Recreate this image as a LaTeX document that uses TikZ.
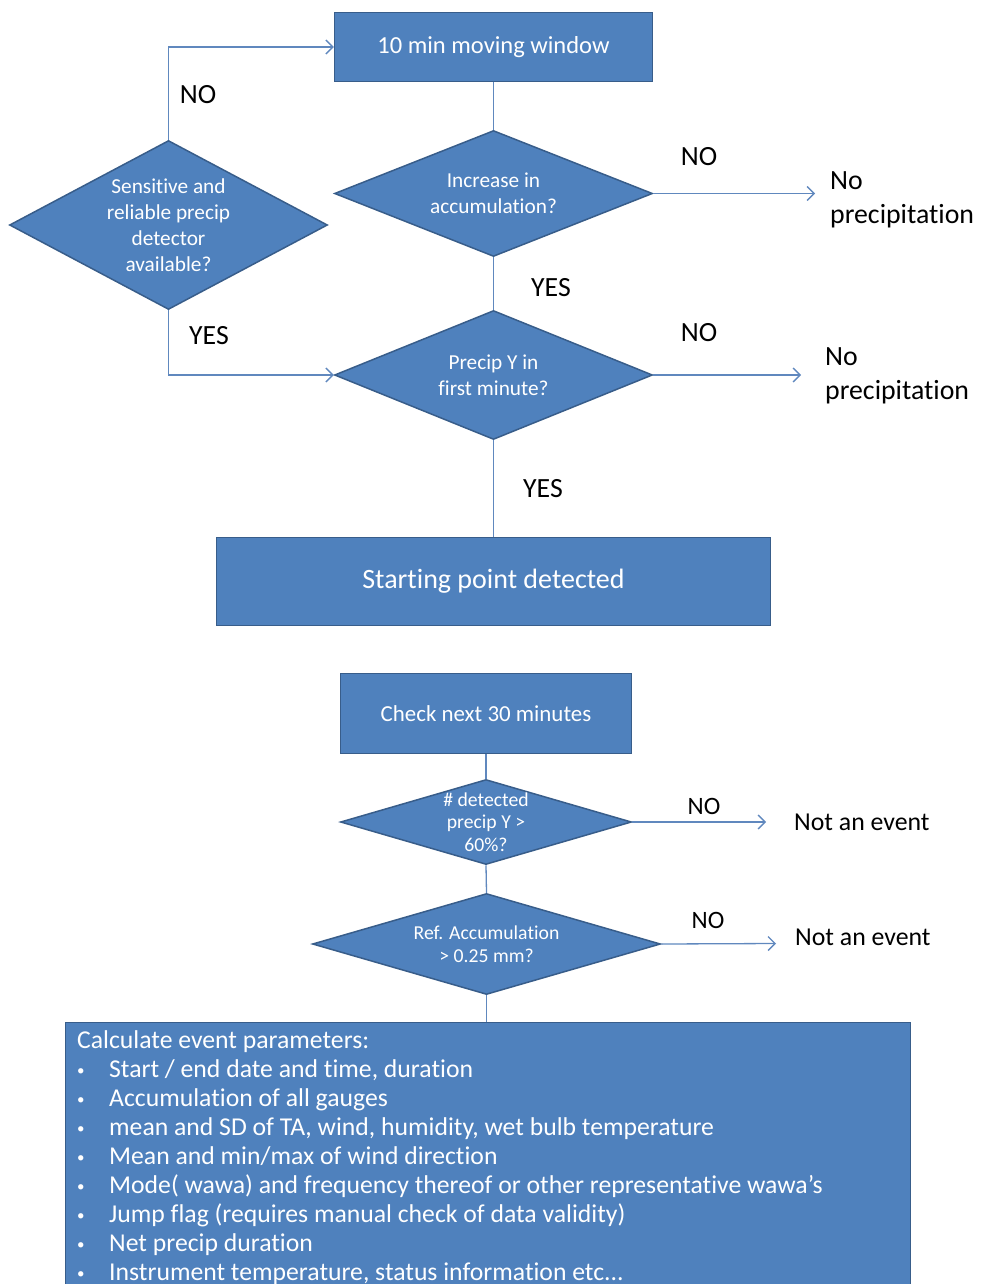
\documentclass[tikz,border=0pt]{standalone}
\usepackage{fontspec}
\setmainfont{Carlito}[Ligatures=NoCommon]
\usetikzlibrary{shapes.geometric,arrows.meta}
\definecolor{boxblue}{RGB}{79,129,189}
\definecolor{boxedge}{RGB}{56,93,138}
\definecolor{lineblue}{RGB}{96,136,190}
\newcommand\windowfont{\fontsize{24.5}{29}\selectfont}
\newcommand\startfont{\fontsize{28}{33}\selectfont}
\newcommand\nextfont{\fontsize{22.9}{27}\selectfont}
\newcommand\diamfont{\fontsize{21.3}{26}\selectfont}
\newcommand\smalldiamfont{\fontsize{19.7}{22.5}\selectfont}
\newcommand\answerfont{\fontsize{27.8}{34}\selectfont}
\newcommand\eventfont{\fontsize{25.8}{31}\selectfont}
\newcommand\paramfont{\fontsize{25.7}{29}\selectfont}
\newcommand\dotitem{\makebox[32pt][l]{\raisebox{2pt}{\fontsize{15}{15}\selectfont•}}}
\tikzset{
  process/.style={rectangle, fill=boxblue, draw=boxedge, line width=1.5pt, text=white, inner sep=0pt},
  decision/.style={diamond, fill=boxblue, draw=boxedge, line width=1.5pt, inner sep=0pt},
  dtext/.style={text=white, align=center, inner sep=0pt},
  flow/.style={draw=lineblue, line width=1.3pt},
  flowarrow/.style={flow, -{Straight Barb[length=7pt,width=14pt]}},
  answer/.style={inner sep=0pt, font=\answerfont},
  outcome/.style={inner sep=0pt, align=left, anchor=west},
}
\begin{document}
\begin{tikzpicture}[x=1pt, y=-1pt]
\useasboundingbox (0,0) rectangle (980,1284);
\clip (0,0) rectangle (980,1284);
% start of the event
\node[process, minimum width=318pt, minimum height=69pt, font=\windowfont] (window) at (493.5,47) {10 min moving window};
\node[decision, minimum width=318pt, minimum height=126pt] (incr) at (493.5,193.5) {};
\node[dtext, font=\diamfont] at (incr) {Increase in\\accumulation?};
\node[decision, minimum width=318pt, minimum height=169pt] (sens) at (168.5,225) {};
\node[dtext, font=\diamfont] at (sens) {Sensitive and\\reliable precip\\detector\\available?};
\node[decision, minimum width=318pt, minimum height=129pt] (prec) at (493.5,375) {};
\node[dtext, font=\diamfont] at (prec) {Precip Y in\\first minute?};
\node[process, minimum width=554pt, minimum height=88pt, font=\startfont] (start) at (493.5,581.5) {Starting point detected};
\coordinate (np1) at (815,193.5);
\coordinate (np2) at (801,375);
\node[outcome, font=\answerfont] (noprec1) at (830,200) {No\\precipitation};
\node[outcome, font=\answerfont] (noprec2) at (825,376) {No\\precipitation};
\draw[flowarrow] (sens.north) |- (window.west);
\draw[flow] (window.south) -- (incr.north);
\draw[flowarrow] (incr.east) -- (np1);
\draw[flow] (incr.south) -- (prec.north);
\draw[flowarrow] (sens.south) |- (prec.west);
\draw[flowarrow] (prec.east) -- (np2);
\draw[flow] (prec.south) -- (start.north);
\node[answer] at (198,95) {NO};
\node[answer] at (699,157) {NO};
\node[answer] at (551,288) {YES};
\node[answer] at (209,336) {YES};
\node[answer] at (699,333) {NO};
\node[answer] at (543,489) {YES};
% check of the event
\node[process, minimum width=291pt, minimum height=80pt, font=\nextfont] (next) at (486,713.5) {Check next 30 minutes};
\node[decision, minimum width=291pt, minimum height=85pt] (share) at (486,822) {};
\node[dtext, font=\smalldiamfont] at (share) {\# detected\\precip Y >\\60\%?};
\node[decision, minimum width=348pt, minimum height=101pt] (accu) at (486.5,944) {};
\node[dtext, font=\smalldiamfont] at (accu) {Ref. Accumulation\\> 0.25 mm?};
\node[process, anchor=north west, minimum width=845pt, minimum height=300pt] (params) at (64.5,1021.5) {};
\node[outcome, anchor=north west, text=white, font=\paramfont] at (77,1030) {Calculate event parameters:\\
\dotitem Start / end date and time, duration\\
\dotitem Accumulation of all gauges\\
\dotitem mean and SD of TA, wind, humidity, wet bulb temperature\\
\dotitem Mean and min/max of wind direction\\
\dotitem Mode( wawa) and frequency thereof or other representative wawa’s\\
\dotitem Jump flag (requires manual check of data validity)\\
\dotitem Net precip duration\\
\dotitem Instrument temperature, status information etc...};
\coordinate (ne1) at (766,822);
\coordinate (ne2) at (776,943.5);
\node[outcome, font=\eventfont] (notev1) at (794,822) {Not an event};
\node[outcome, font=\eventfont] (notev2) at (795,937) {Not an event};
\draw[flow] (next.south) -- (share.north);
\draw[flowarrow] (share.east) -- (ne1);
\draw[flow] (share.south) -- (accu.north);
\draw[flowarrow] (accu.east) -- (ne2);
\draw[flow] (accu.south) -- (params.north -| accu.south);
\node[answer, font=\fontsize{25}{30}\selectfont] at (704,806) {NO};
\node[answer, font=\fontsize{25}{30}\selectfont] at (708,920) {NO};
\end{tikzpicture}
\end{document}
